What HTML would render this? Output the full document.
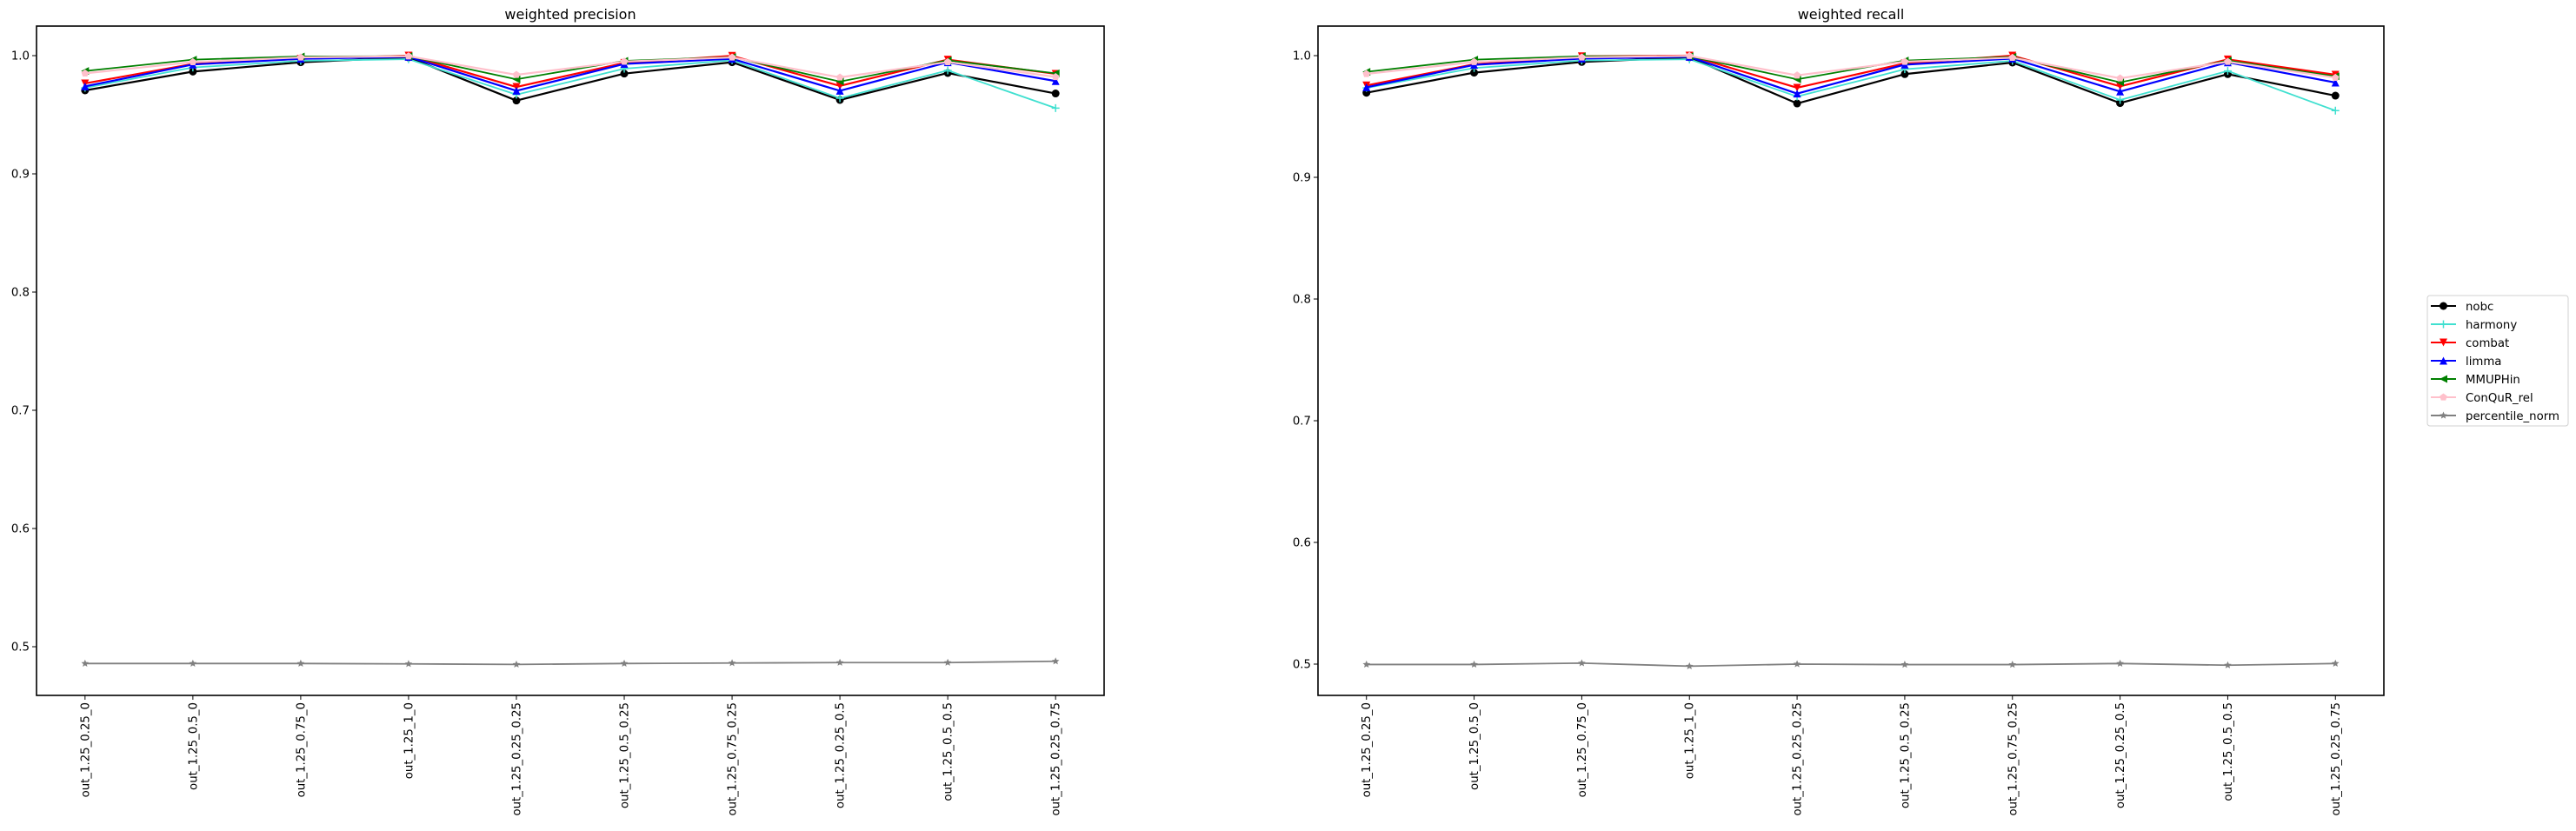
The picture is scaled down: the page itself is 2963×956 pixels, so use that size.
<!DOCTYPE html>
<html><head><meta charset="utf-8"><style>
html,body{margin:0;padding:0;background:#fff;}
svg{display:block;font-family:"DejaVu Sans","Liberation Sans",sans-serif;}
</style></head><body>
<svg id="fig" width="2963" height="956" viewBox="0 0 2963 956" xmlns="http://www.w3.org/2000/svg"></svg>
<script>
const categories = ["out_1.25_0.25_0","out_1.25_0.5_0","out_1.25_0.75_0","out_1.25_1_0","out_1.25_0.25_0.25","out_1.25_0.5_0.25","out_1.25_0.75_0.25","out_1.25_0.25_0.5","out_1.25_0.5_0.5","out_1.25_0.25_0.75"];
const seriesNames = ["nobc","harmony","combat","limma","MMUPHin","ConQuR_rel","percentile_norm"];
const precNobc = [0.9706,0.9865,0.9944,0.9985,0.962,0.9848,0.9944,0.9625,0.9853,0.968];
const precHarmony = [0.9728,0.990,0.9956,0.997,0.967,0.989,0.9961,0.964,0.9875,0.9556];
const precCombat = [0.9765,0.993,0.9973,1.0,0.9735,0.9938,0.9998,0.9744,0.9966,0.9846];
const precLimma = [0.974,0.9925,0.9973,0.999,0.9703,0.993,0.9973,0.9703,0.9944,0.9785];
const precMMUPHin = [0.987,0.9966,0.9993,0.9995,0.980,0.9956,0.9988,0.978,0.996,0.985];
const precConqur = [0.985,0.9946,0.9985,0.9995,0.9838,0.995,0.9985,0.9816,0.9946,0.982];
const precPercentile = [0.4858,0.4858,0.4858,0.4855,0.485,0.4858,0.4862,0.4866,0.4866,0.4877];
const recNobc = [0.9695,0.986,0.9948,0.9986,0.9607,0.9848,0.9943,0.961,0.9848,0.9671];
const recHarmony = [0.9735,0.9898,0.996,0.997,0.9664,0.9888,0.9957,0.9636,0.9874,0.9548];
const recCombat = [0.9755,0.9929,0.9995,1.0,0.9736,0.9936,1.0,0.9748,0.9969,0.9843];
const recLimma = [0.974,0.9924,0.9976,0.999,0.9688,0.9926,0.9976,0.9705,0.9945,0.9779];
const recMMUPHin = [0.9867,0.9967,0.9995,0.9995,0.9805,0.996,0.999,0.978,0.996,0.983];
const recConqur = [0.985,0.9948,0.9986,0.9998,0.9838,0.995,0.9983,0.9814,0.995,0.9819];
const recPercentile = [0.4997,0.4997,0.5008,0.4983,0.5,0.4996,0.4996,0.5005,0.4991,0.5005];
const yTicks = [0.5,0.6,0.7,0.8,0.9,1.0];
const yTickLabels = ["0.5","0.6","0.7","0.8","0.9","1.0"];

const colors = ["#000000","#40e0d0","#ff0000","#0000ff","#008000","#ffc0cb","#808080"];
const markers = ["o","+","v","^","<","p","*"];
const NS="http://www.w3.org/2000/svg";
const svg=document.getElementById('fig');
function mk(tag,attrs,parent){const e=document.createElementNS(NS,tag);for(const k in attrs)e.setAttribute(k,attrs[k]);(parent||svg).appendChild(e);return e;}
function markerShape(g,m,x,y,c){
  const r=4.5;let e;
  if(m==="o"){e=mk('circle',{cx:x,cy:y,r:r,fill:c},g);}
  else if(m==="+"){e=mk('path',{d:`M${x-r} ${y}H${x+r}M${x} ${y-r}V${y+r}`,stroke:c,'stroke-width':1.5,fill:'none'},g);}
  else if(m==="v"){e=mk('polygon',{points:`${x-r},${y-r} ${x+r},${y-r} ${x},${y+r}`,fill:c},g);}
  else if(m==="^"){e=mk('polygon',{points:`${x-r},${y+r} ${x+r},${y+r} ${x},${y-r}`,fill:c},g);}
  else if(m==="<"){e=mk('polygon',{points:`${x+r},${y-r} ${x+r},${y+r} ${x-r},${y}`,fill:c},g);}
  else if(m==="p"){let p=[];for(let i=0;i<5;i++){const a=-Math.PI/2+i*2*Math.PI/5;p.push((x+r*Math.cos(a))+','+(y+r*Math.sin(a)));}e=mk('polygon',{points:p.join(' '),fill:c},g);}
  else {let p=[];for(let i=0;i<10;i++){const a=-Math.PI/2+i*Math.PI/5;const rr=i%2?r*0.45:r;p.push((x+rr*Math.cos(a))+','+(y+rr*Math.sin(a)));}e=mk('polygon',{points:p.join(' '),fill:c},g);}
  
  
}
function panel(cfg){
  const {left,right,top,bottom,ymin,ymax,title,data,name}=cfg;
  const g=mk('g',{});
  
  
  const n=categories.length;const margin=0.45;
  const xs=i=>left+(i+margin)*(right-left)/(n-1+2*margin);
  const ys=v=>bottom-(v-ymin)/(ymax-ymin)*(bottom-top);
  const t=mk('text',{x:(left+right)/2,y:22,'text-anchor':'middle','font-size':16},g);t.textContent=title;
  
  yTicks.forEach((v,i)=>{const y=ys(v);
    const tk=mk('line',{x1:left-5,x2:left,y1:y,y2:y,stroke:'#000','stroke-width':1},g);
    
    const tl=mk('text',{x:left-8,y:y+4.5,'text-anchor':'end','font-size':13.3},g);tl.textContent=yTickLabels[i];
    
  });
  categories.forEach((c,i)=>{const x=xs(i);
    const tk=mk('line',{x1:x,x2:x,y1:bottom,y2:bottom+5,stroke:'#000','stroke-width':1},g);
    
    const tl=mk('text',{transform:`translate(${x+4.5},${bottom+8}) rotate(-90)`,'text-anchor':'end','font-size':13.3},g);tl.textContent=c;
    
  });
  data.forEach((arr,s)=>{
    const sg=mk('g',{},g);
    
    
    const pts=arr.map((v,i)=>xs(i)+','+ys(v)).join(' ');
    mk('polyline',{points:pts,fill:'none',stroke:colors[s],'stroke-width':s===1||s===4||s===6?1.8:2.2,'stroke-linejoin':'round'},sg);
    arr.forEach((v,i)=>markerShape(sg,markers[s],xs(i),ys(v),colors[s]));
  });
  const fr=mk('rect',{x:left,y:top,width:right-left,height:bottom-top,fill:'none',stroke:'#000','stroke-width':1.6},g);
  
}
panel({name:'precision-panel',left:42,right:1270,top:30,bottom:800,ymin:1-(800-64)/1360,ymax:1+(64-30)/1360,title:'weighted precision',
  data:[precNobc,precHarmony,precCombat,precLimma,precMMUPHin,precConqur,precPercentile]});
panel({name:'recall-panel',left:1516,right:2742,top:30,bottom:800,ymin:1-(800-64)/1400,ymax:1+(64-30)/1400,title:'weighted recall',
  data:[recNobc,recHarmony,recCombat,recLimma,recMMUPHin,recConqur,recPercentile]});
// legend
const lg=mk('g',{});


mk('rect',{x:2792,y:340,width:162,height:150,rx:3,fill:'#fff',stroke:'#d0d0d0','stroke-width':1},lg);
seriesNames.forEach((nm,i)=>{
  const y=352+i*21;
  const e=mk('g',{},lg);
  
  
  mk('line',{x1:2796,x2:2825,y1:y,y2:y,stroke:colors[i],'stroke-width':2},e);
  markerShape(e,markers[i],2810.5,y,colors[i]);
  const t=mk('text',{x:2836,y:y+5,'font-size':13.3},e);t.textContent=nm;
});
</script>
</body></html>
